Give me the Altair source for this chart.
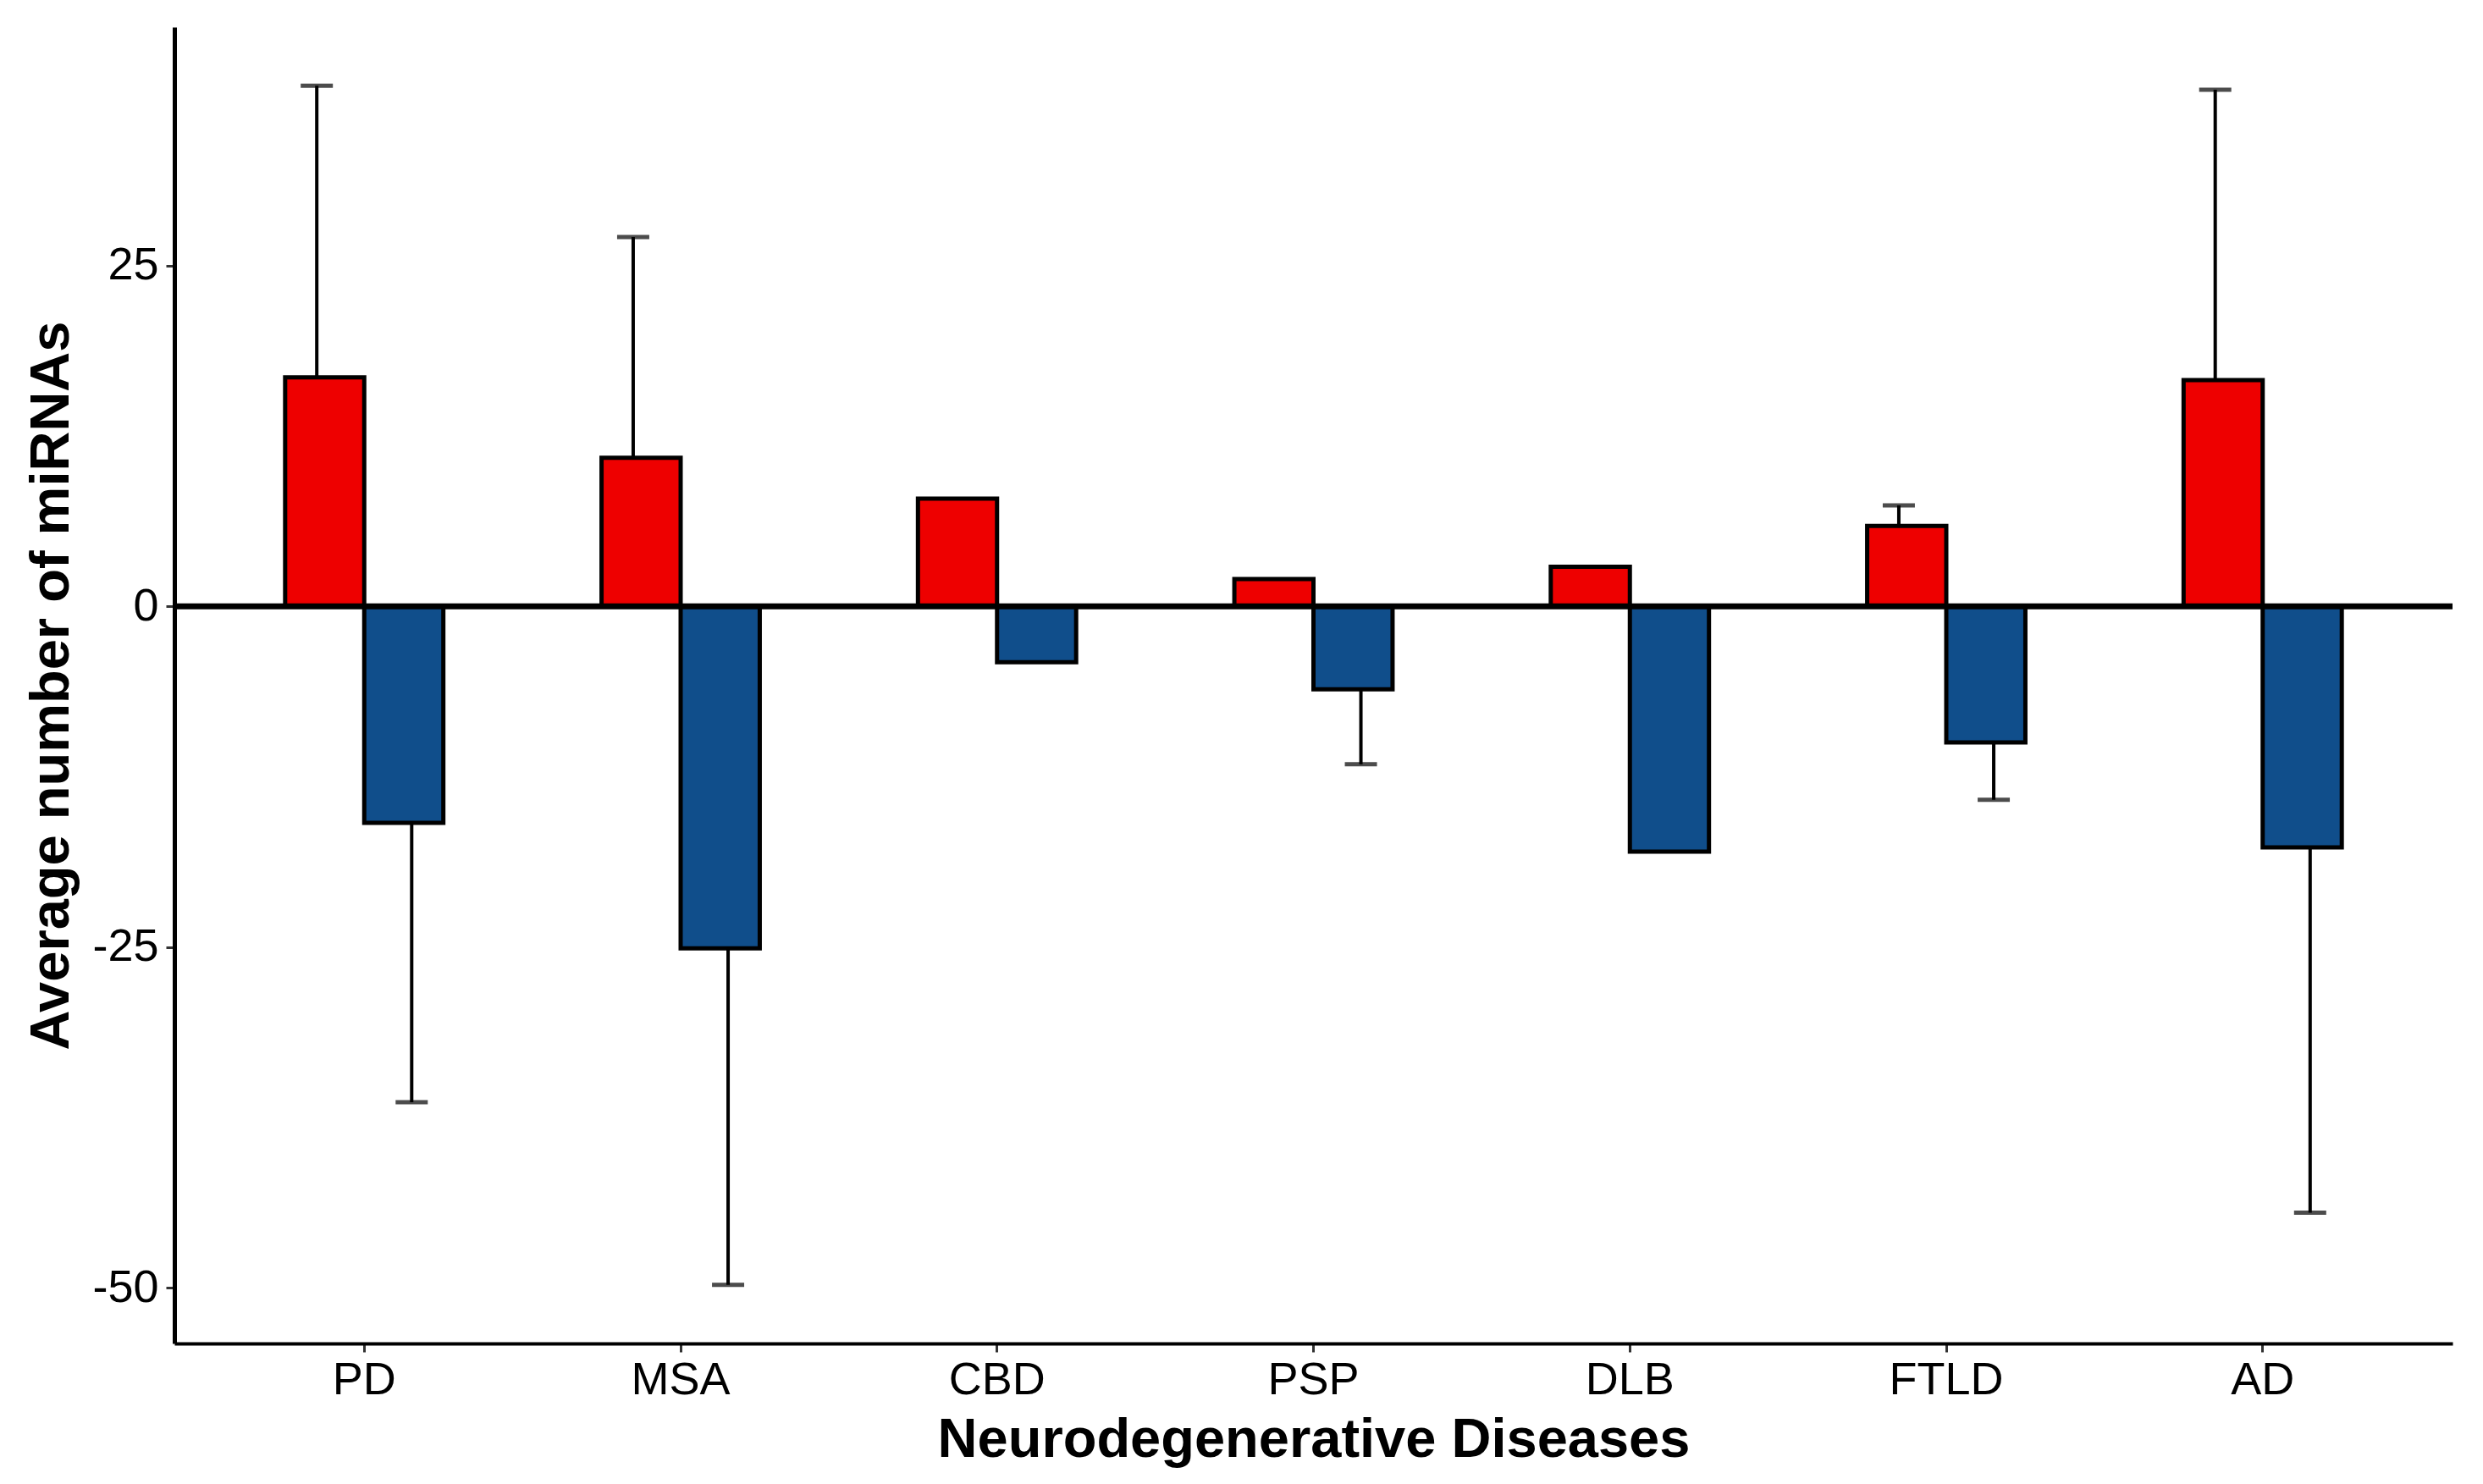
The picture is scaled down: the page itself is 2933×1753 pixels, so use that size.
import altair as alt
import pandas as pd

categories = ["PD", "MSA", "CBD", "PSP", "DLB", "FTLD", "AD"]
up_values = [16.8, 10.9, 7.9, 2.0, 2.9, 5.9, 16.6]
up_err_top = [38.2, 27.1, None, None, None, 7.4, 37.9]
down_values = [-15.9, -25.1, -4.1, -6.1, -18.0, -10.0, -17.7]
down_err_bottom = [-36.4, -49.8, None, -11.6, None, -14.2, -44.5]
y_ticks = [-50, -25, 0, 25]

rows = []
err_rows = []
for i, c in enumerate(categories):
    rows.append({"cat": c, "dir": "up", "value": up_values[i]})
    rows.append({"cat": c, "dir": "down", "value": down_values[i]})
    if up_err_top[i] is not None:
        err_rows.append({"cat": c, "dir": "up", "value": up_values[i], "err": up_err_top[i]})
    if down_err_bottom[i] is not None:
        err_rows.append({"cat": c, "dir": "down", "value": down_values[i], "err": down_err_bottom[i]})
df = pd.DataFrame(rows)
edf = pd.DataFrame(err_rows)
zdf = pd.DataFrame({"y": [0]})

FONT = "Liberation Sans"

xscale = alt.Scale(domain=categories, paddingInner=0, paddingOuter=0.1)
yscale = alt.Scale(domain=[-54.1, 42.5], nice=False, zero=False)

x_enc = alt.X(
    "cat:N", scale=xscale, sort=categories,
    axis=alt.Axis(title="Neurodegenerative Diseases", labelAngle=0, labelFontSize=54,
                  labelFont=FONT, labelColor="black", titleFont=FONT, titleFontSize=65,
                  titleFontWeight="bold", titleColor="black", tickSize=10, tickWidth=3,
                  tickColor="#333333", domainColor="black", domainWidth=4,
                  labelPadding=6, titlePadding=12, grid=False),
)
y_enc = alt.Y(
    "value:Q", scale=yscale,
    axis=alt.Axis(title="Average number of miRNAs", values=y_ticks, labelFontSize=54,
                  labelFont=FONT, labelColor="black", titleFont=FONT, titleFontSize=65,
                  titleFontWeight="bold", titleColor="black", tickSize=10, tickWidth=3,
                  tickColor="#333333", domainColor="black", domainWidth=5,
                  labelPadding=9, titlePadding=14, grid=False,
                  labelExpr="datum.value < 0 ? '-' + abs(datum.value) : '' + datum.value"),
)

bars = alt.Chart(df).mark_bar(stroke="black", strokeWidth=5).encode(
    x=x_enc,
    xOffset=alt.XOffset("dir:N", sort=["up", "down"],
                        scale=alt.Scale(domain=["up", "down"], paddingInner=0, paddingOuter=1)),
    y=y_enc,
    color=alt.Color("dir:N", scale=alt.Scale(domain=["up", "down"], range=["#EE0000", "#104E8B"]),
                    legend=None),
)

err_off = alt.XOffset("dir:N", sort=["up", "down"],
                      scale=alt.Scale(domain=["up", "down"], paddingInner=0, paddingOuter=0.667))

stems = alt.Chart(edf).mark_rule(color="black", strokeWidth=4).encode(
    x=alt.X("cat:N", scale=xscale, sort=categories),
    xOffset=err_off,
    y=alt.Y("value:Q", scale=yscale),
    y2="err:Q",
)
caps = alt.Chart(edf).mark_tick(color="black", thickness=5, size=38).encode(
    x=alt.X("cat:N", scale=xscale, sort=categories),
    xOffset=err_off,
    y=alt.Y("err:Q", scale=yscale),
)
zero = alt.Chart(zdf).mark_rule(color="black", strokeWidth=7).encode(y=alt.Y("y:Q", scale=yscale))

chart = alt.layer(bars, stems, caps, zero).resolve_scale(xOffset="independent").properties(
    width=2691, height=1555,
    padding={"left": 20, "top": 24, "right": 10, "bottom": 10},
).configure_view(stroke=None)

chart.save("out.html", embed_options={"renderer": "svg", "actions": False})
